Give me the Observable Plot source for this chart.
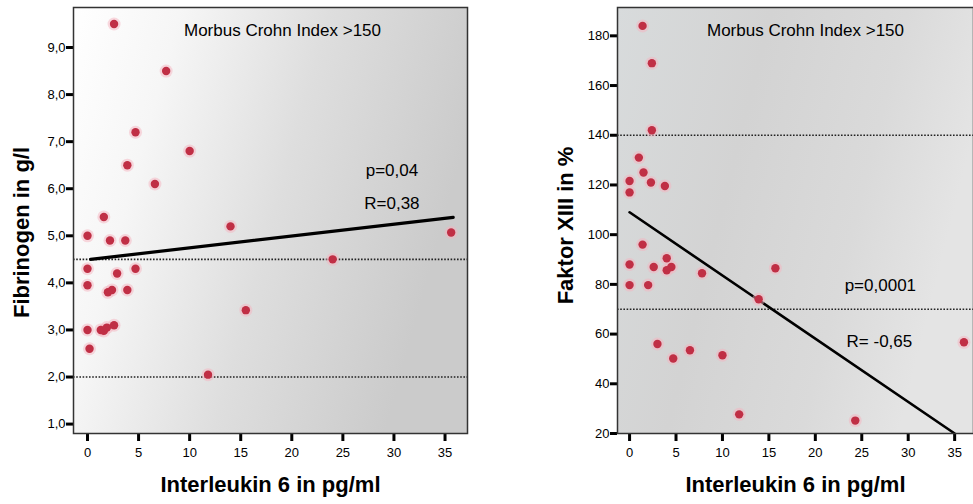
<!DOCTYPE html>
<html><head><meta charset="utf-8">
<script src="https://cdn.jsdelivr.net/npm/d3@7"></script>
<script src="https://cdn.jsdelivr.net/npm/@observablehq/plot@0.6"></script>
<style>
body{margin:0;background:#fff;width:973px;height:504px;overflow:hidden;position:relative;font-family:"Liberation Sans",Arial,sans-serif;}
#left{position:absolute;left:0;top:0;}
#right{position:absolute;left:490px;top:0;}
</style></head><body>
<div id="left"></div><div id="right"></div>
<script>
// Left panel: Interleukin 6 (pg/ml) vs Fibrinogen (g/l)
const fibIL6 = [2.6,7.7,4.7,10.0,3.9,6.6,1.6,0.0,2.2,3.7,14.0,0.0,0.0,2.9,4.7,2.0,2.4,3.9,0.0,1.3,1.6,1.9,2.6,0.2,11.8,15.5,24.0,35.6];
const fibValues = [9.5,8.5,7.2,6.8,6.5,6.1,5.4,5.0,4.9,4.9,5.2,4.3,3.95,4.2,4.3,3.8,3.85,3.85,3.0,3.0,2.98,3.05,3.1,2.6,2.05,3.42,4.5,5.07];
const fibFitX = [0.3, 35.8];
const fibFitY = [4.5, 5.39];
const fibRefLines = [4.5, 2.0];
const fibYTicks = [1,2,3,4,5,6,7,8,9];

// Right panel: Interleukin 6 (pg/ml) vs Faktor XIII (%)
const f13IL6 = [1.4,2.4,2.4,1.0,1.5,2.3,0.0,0.0,3.8,1.4,0.0,2.6,4.0,4.5,4.0,7.8,0.0,2.0,15.7,13.9,3.0,4.7,6.5,10.0,11.8,24.3,36.0];
const f13Values = [184,169,142,131,125,121,121.6,117,119.6,96,88,87,90.5,87,85.7,84.5,79.7,79.7,86.5,74,56,50.2,53.5,51.5,27.7,25.2,56.7];
const f13FitX = [0, 35];
const f13FitY = [109, 20];
const f13RefLines = [140, 70];
const f13YTicks = [20,40,60,80,100,120,140,160,180];

const xTicks = [0,5,10,15,20,25,30,35];
const panelTitle = "Morbus Crohn Index >150";
const xLabel = "Interleukin 6 in pg/ml";

const H = 504, MT = 7, MB = 71;

function panel(cfg) {
  const pts = cfg.xs.map((x, i) => ({x, y: cfg.ys[i]}));
  const fit = cfg.fitX.map((x, i) => ({x, y: cfg.fitY[i]}));
  const stats = cfg.statText.map((t, i) => ({t, x: cfg.statX[i], y: cfg.statY[i]}));
  const innerH = H - MT - MB;
  const innerW = cfg.width - cfg.ml - cfg.mr;
  const svg = Plot.plot({
    width: cfg.width, height: H,
    marginLeft: cfg.ml, marginRight: cfg.mr, marginTop: MT, marginBottom: MB,
    style: {background: "transparent", fontFamily: "'Liberation Sans', Arial, sans-serif", color: "#000"},
    x: {domain: cfg.xDomain, axis: null},
    y: {domain: cfg.yDomain, axis: null},
    marks: [
      Plot.frame({fill: `url(#${cfg.gid})`, stroke: "none"}),
      Plot.ruleY(cfg.refs, {stroke: "#222", strokeWidth: 1.6, strokeDasharray: "1.6,1.6"}),
      Plot.line(fit, {x: "x", y: "y", stroke: "#000", strokeWidth: cfg.fitW}),
      Plot.dot(pts, {x: "x", y: "y", r: 6.5, fill: "#f5b3c0", fillOpacity: 0.5}),
      Plot.dot(pts, {x: "x", y: "y", r: 4.2, fill: "#c02f45"}),
      Plot.text([panelTitle], {frameAnchor: "top", dy: 16, dx: cfg.titleDx, fontSize: 17}),
      Plot.text(stats, {x: "x", y: "y", text: "t", fontSize: 17}),
      Plot.axisX(xTicks, {tickSize: 8, tickPadding: 6, fontSize: 13, label: null}),
      Plot.axisY(cfg.yTicks, {tickSize: 7, tickPadding: 1, fontSize: 13, label: null, tickFormat: cfg.fmt}),
      // bold tick marks outside the frame
      Plot.ruleX(xTicks, {x: d => d, insetTop: innerH, insetBottom: -8, stroke: "#000", strokeWidth: 3}),
      Plot.ruleY(cfg.yTicks, {y: d => d, insetRight: innerW, insetLeft: -7, stroke: "#000", strokeWidth: 3}),
      Plot.text([xLabel], {frameAnchor: "bottom", dy: 58, fontSize: 22, fontWeight: "bold"}),
      Plot.text([cfg.yLabel], {frameAnchor: "left", textAnchor: "middle", dx: -52, dy: cfg.yLabelDy, rotate: -90, fontSize: 22, fontWeight: "bold"}),
      Plot.frame({stroke: "#333", strokeWidth: 1.5})
    ]
  });
  const defs = d3.select(svg).insert("defs", ":first-child");
  const g = defs.append("linearGradient").attr("id", cfg.gid).attr("x1", "0").attr("x2", "1").attr("y1", "0").attr("y2", "0.3");
  cfg.stops.forEach(([o, c]) => g.append("stop").attr("offset", o).attr("stop-color", c));
  return svg;
}

document.getElementById("left").append(panel({
  width: 490, ml: 73, mr: 23, gid: "gL",
  xs: fibIL6, ys: fibValues, fitX: fibFitX, fitY: fibFitY, fitW: 3.2, refs: fibRefLines,
  xDomain: [-1.37, 37.2], yDomain: [0.8, 9.85], yTicks: fibYTicks,
  fmt: d => d.toFixed(1).replace(".", ","),
  yLabel: "Fibrinogen in g/l", titleDx: 12, yLabelDy: 12,
  statText: ["p=0,04", "R=0,38"], statX: [29.8, 29.8], statY: [6.39, 5.69],
  stops: [["0%", "#ffffff"], ["25%", "#f6f6f6"], ["60%", "#dedede"], ["100%", "#cbcbcb"]]
}));

document.getElementById("right").append(panel({
  width: 483, ml: 127, mr: 0, gid: "gR",
  xs: f13IL6, ys: f13Values, fitX: f13FitX, fitY: f13FitY, fitW: 2.6, refs: f13RefLines,
  xDomain: [-1.3, 37.03], yDomain: [20, 191.4], yTicks: f13YTicks,
  fmt: d => String(d),
  yLabel: "Faktor XIII in %", titleDx: 10, yLabelDy: 5,
  statText: ["p=0,0001", "R= -0,65"], statX: [27.0, 26.9], statY: [79.7, 57],
  stops: [["0%", "#d8dbdc"], ["40%", "#d3d3d3"], ["75%", "#dadada"], ["100%", "#e4e4e4"]]
}));
</script>
</body></html>
